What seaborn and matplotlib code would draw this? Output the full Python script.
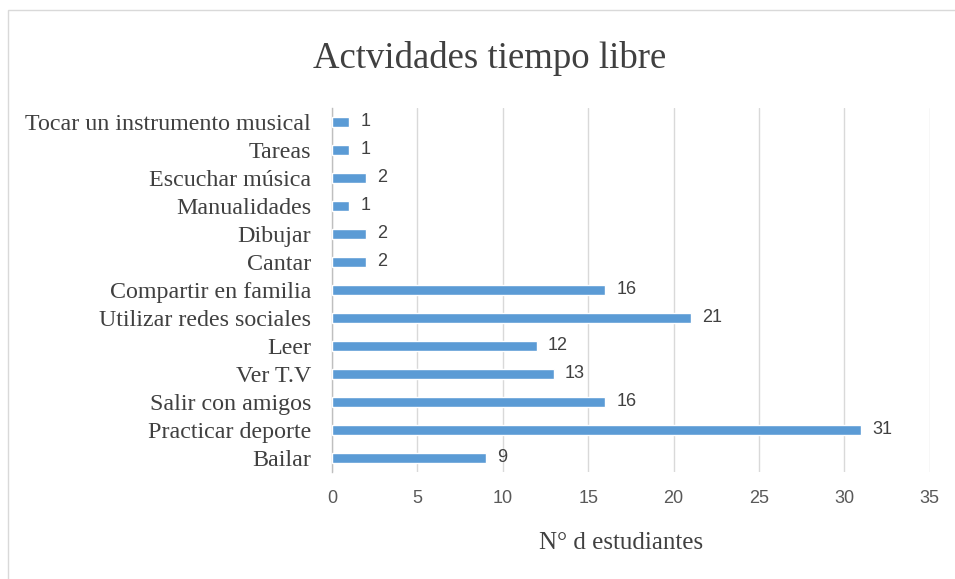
import matplotlib
matplotlib.use("Agg")
import matplotlib.pyplot as plt
import seaborn as sns
import pandas as pd
from matplotlib.patches import Rectangle

actividades = ["Tocar un instrumento musical", "Tareas", "Escuchar música",
               "Manualidades", "Dibujar", "Cantar", "Compartir en familia",
               "Utilizar redes sociales", "Leer", "Ver T.V", "Salir con amigos",
               "Practicar deporte", "Bailar"]
estudiantes = [1, 1, 2, 1, 2, 2, 16, 21, 12, 13, 16, 31, 9]
ticks_x = [0, 5, 10, 15, 20, 25, 30, 35]

df = pd.DataFrame({"actividad": actividades, "n": estudiantes})

sns.set_style("white")
serif = ["Liberation Serif", "DejaVu Serif"]
sans = ["Liberation Sans", "DejaVu Sans"]

fig = plt.figure(figsize=(9.55, 5.79), dpi=100)
ax = fig.add_axes([0.3476, 0.185, 0.626, 0.6285])

sns.barplot(data=df, x="n", y="actividad", color="#5B9BD5", width=0.38,
            saturation=1, ax=ax, zorder=3)

ax.set_xlim(0, 35)
ax.set_ylim(12.5, -0.5)
ax.set_xticks(ticks_x)
ax.set_xticklabels([str(t) for t in ticks_x], family=sans, fontsize=13, color="#595959")
ax.tick_params(axis="x", length=0, pad=13)
ax.tick_params(axis="y", length=0, pad=15)
for lbl in ax.get_yticklabels():
    lbl.set_family(serif)
    lbl.set_fontsize(17.3)
    lbl.set_color("#404040")

ax.grid(axis="x", color="#D9D9D9", linewidth=1, zorder=0)
for s in ["top", "right", "bottom"]:
    ax.spines[s].set_visible(False)
ax.spines["left"].set_color("#BFBFBF")
ax.spines["left"].set_linewidth(1)

for i, v in enumerate(estudiantes):
    ax.annotate(str(v), (v, i), xytext=(8, 0), textcoords="offset points",
                va="center", ha="left", family=sans, fontsize=13, color="#404040")

ax.set_xlabel("N° d estudiantes", family=serif, fontsize=18, color="#404040")
ax.xaxis.set_label_coords(0.483, -0.165)
ax.set_ylabel("")
fig.suptitle("Actvidades tiempo libre", family=serif, fontsize=26.5, color="#404040",
             x=0.513, y=0.93)

fig.patches.append(Rectangle((8 / 955, -0.01), 1.0, 1 - 10 / 579 + 0.01,
                             transform=fig.transFigure, fill=False,
                             edgecolor="#D9D9D9", linewidth=1))

fig.savefig("out.png", dpi=100)
